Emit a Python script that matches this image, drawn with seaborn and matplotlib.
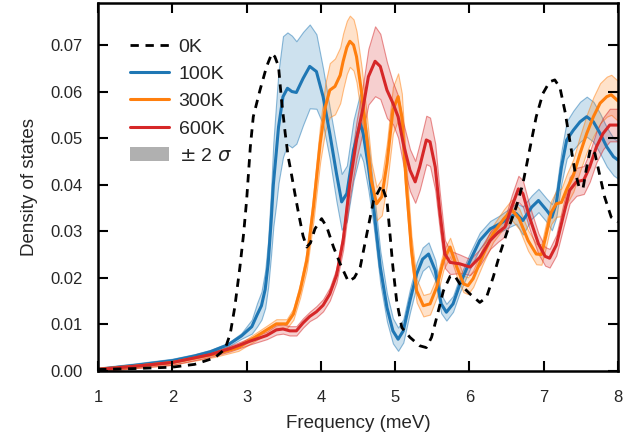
import numpy as np
import seaborn as sns
import matplotlib
matplotlib.use("Agg")
import matplotlib.pyplot as plt
from matplotlib.patches import Patch

# 0K (no uncertainty band)
x_0k = [1.0, 1.5, 2.0, 2.3, 2.57, 2.71, 2.78, 2.84, 2.91, 2.96, 3.0, 3.05, 3.09, 3.18,
        3.27, 3.34, 3.38, 3.43, 3.47, 3.52, 3.56, 3.61, 3.65, 3.70, 3.76, 3.81, 3.86,
        3.92, 4.01, 4.08, 4.17, 4.26, 4.37, 4.45, 4.53, 4.62, 4.71, 4.82, 4.89, 4.93,
        4.97, 5.02, 5.09, 5.20, 5.33, 5.42, 5.49, 5.56, 5.65, 5.74, 5.80, 5.87, 6.01,
        6.14, 6.23, 6.32, 6.41, 6.50, 6.63, 6.72, 6.81, 6.90, 6.99, 7.08, 7.15, 7.22,
        7.29, 7.35, 7.42, 7.48, 7.53, 7.58, 7.63, 7.69, 7.76, 7.82, 7.91, 8.0]
y_0k = [0.0003, 0.0005, 0.0008, 0.0014, 0.0028, 0.0047, 0.008, 0.0136, 0.0223, 0.0295,
        0.0366, 0.0481, 0.0546, 0.0603, 0.0654, 0.0682, 0.0675, 0.0654, 0.0582, 0.051,
        0.046, 0.0417, 0.0381, 0.0338, 0.029, 0.0266, 0.0275, 0.0305, 0.0327, 0.0309,
        0.0266, 0.023, 0.0192, 0.02, 0.0223, 0.0295, 0.0366, 0.0399, 0.0366, 0.0295,
        0.0223, 0.0151, 0.0093, 0.0072, 0.0054, 0.005, 0.0072, 0.0115, 0.0172, 0.0203,
        0.0205, 0.0187, 0.0165, 0.0147, 0.0158, 0.0201, 0.0251, 0.0295, 0.0352, 0.0402,
        0.0474, 0.0546, 0.0596, 0.0621, 0.0625, 0.0608, 0.0555, 0.0496, 0.043, 0.0393,
        0.0392, 0.0438, 0.0478, 0.0467, 0.0417, 0.0374, 0.033, 0.032]

# 100K
x_100k = [1.0, 1.5, 2.0, 2.3, 2.51, 2.75, 2.93, 3.07, 3.14, 3.20, 3.25, 3.29, 3.33, 3.36,
          3.40, 3.43, 3.49, 3.55, 3.61, 3.67, 3.76, 3.85, 3.94, 4.03, 4.12, 4.21, 4.28,
          4.35, 4.44, 4.53, 4.57, 4.64, 4.71, 4.80, 4.89, 4.97, 5.04, 5.11, 5.20, 5.29,
          5.37, 5.45, 5.54, 5.62, 5.69, 5.78, 5.87, 6.01, 6.14, 6.28, 6.41, 6.55, 6.63,
          6.72, 6.84, 6.93, 7.04, 7.11, 7.17, 7.24, 7.31, 7.40, 7.49, 7.58, 7.67, 7.76,
          7.85, 7.94, 8.0]
y_100k = [0.0003, 0.0012, 0.0022, 0.0032, 0.0041, 0.0056, 0.0075, 0.0095, 0.012, 0.014,
          0.0175, 0.023, 0.032, 0.04, 0.047, 0.0524, 0.0589, 0.0607, 0.06, 0.0598, 0.0628,
          0.0654, 0.0643, 0.0589, 0.051, 0.0424, 0.0363, 0.0381, 0.0474, 0.0532, 0.051,
          0.0438, 0.0352, 0.0223, 0.0136, 0.0086, 0.0068, 0.0086, 0.0151, 0.0208, 0.024,
          0.0251, 0.0216, 0.0144, 0.0126, 0.0144, 0.0185, 0.0237, 0.028, 0.0305, 0.0316,
          0.033, 0.0338, 0.0323, 0.0352, 0.0366, 0.0345, 0.033, 0.036, 0.0438, 0.0496,
          0.0517, 0.0535, 0.0546, 0.0535, 0.051, 0.0481, 0.046, 0.0453]
s_100k = [0.0004, 0.0004, 0.0004, 0.0004, 0.0004, 0.0004, 0.0006, 0.0015, 0.0025, 0.003,
          0.004, 0.005, 0.007, 0.009, 0.011, 0.012, 0.013, 0.012, 0.012, 0.011, 0.010,
          0.009, 0.008, 0.006, 0.0055, 0.006, 0.006, 0.006, 0.0065, 0.0065, 0.006, 0.005,
          0.004, 0.0035, 0.003, 0.0027, 0.0025, 0.0025, 0.0025, 0.0025, 0.0025, 0.0025,
          0.0022, 0.002, 0.0018, 0.0017, 0.0017, 0.0017, 0.0017, 0.0017, 0.0018, 0.002,
          0.0022, 0.003, 0.0025, 0.0025, 0.0025, 0.0028, 0.003, 0.0035, 0.004, 0.0042,
          0.0043, 0.0043, 0.0043, 0.0043, 0.0042, 0.004, 0.004]

# 300K
x_300k = [1.0, 1.5, 2.0, 2.57, 2.89, 3.11, 3.29, 3.40, 3.54, 3.63, 3.72, 3.81, 3.90, 3.99,
          4.06, 4.12, 4.19, 4.26, 4.30, 4.35, 4.39, 4.44, 4.48, 4.55, 4.62, 4.68, 4.75,
          4.82, 4.89, 4.97, 5.04, 5.09, 5.15, 5.22, 5.29, 5.38, 5.47, 5.56, 5.65, 5.74,
          5.83, 5.92, 5.98, 6.05, 6.19, 6.32, 6.46, 6.57, 6.67, 6.79, 6.90, 6.97, 7.03,
          7.10, 7.17, 7.24, 7.31, 7.40, 7.49, 7.58, 7.67, 7.76, 7.85, 7.91, 8.0]
y_300k = [0.0003, 0.001, 0.0018, 0.0036, 0.005, 0.0072, 0.009, 0.0101, 0.0101, 0.0122,
          0.0172, 0.0237, 0.0352, 0.0488, 0.0567, 0.0603, 0.0611, 0.0635, 0.0665, 0.0695,
          0.0708, 0.07, 0.0675, 0.0596, 0.0496, 0.0409, 0.0359, 0.0374, 0.0445, 0.056,
          0.0589, 0.0546, 0.0402, 0.0259, 0.0172, 0.014, 0.0144, 0.018, 0.0237, 0.0266,
          0.0223, 0.0187, 0.0183, 0.0198, 0.0251, 0.0295, 0.0326, 0.0346, 0.0327, 0.028,
          0.0251, 0.025, 0.029, 0.034, 0.0359, 0.0362, 0.039, 0.042, 0.0467, 0.051, 0.0546,
          0.0575, 0.0589, 0.0593, 0.058]
s_300k = [0.0004, 0.0004, 0.0005, 0.0006, 0.0007, 0.0008, 0.0009, 0.001, 0.001, 0.0012,
          0.0015, 0.002, 0.003, 0.004, 0.005, 0.0058, 0.006, 0.006, 0.006, 0.0057, 0.0055,
          0.0055, 0.0055, 0.0055, 0.005, 0.004, 0.0036, 0.004, 0.0045, 0.005, 0.005, 0.005,
          0.004, 0.003, 0.0025, 0.0023, 0.0023, 0.0022, 0.002, 0.002, 0.002, 0.0018, 0.0018,
          0.0018, 0.0018, 0.0018, 0.002, 0.0022, 0.0022, 0.0022, 0.0022, 0.0022, 0.0025,
          0.0025, 0.0028, 0.003, 0.0032, 0.0035, 0.0038, 0.004, 0.0042, 0.0043, 0.0043,
          0.0043, 0.0043]

# 600K
x_600k = [1.0, 1.5, 2.0, 2.51, 2.78, 3.05, 3.27, 3.40, 3.49, 3.58, 3.67, 3.76, 3.85, 3.94,
          4.03, 4.12, 4.21, 4.30, 4.39, 4.48, 4.57, 4.64, 4.73, 4.80, 4.89, 4.97, 5.04,
          5.11, 5.20, 5.27, 5.33, 5.42, 5.47, 5.54, 5.60, 5.67, 5.74, 5.87, 6.01, 6.14,
          6.28, 6.39, 6.48, 6.57, 6.66, 6.72, 6.81, 6.93, 7.02, 7.08, 7.17, 7.26, 7.35,
          7.44, 7.54, 7.62, 7.71, 7.80, 7.89, 8.0]
y_600k = [0.0003, 0.001, 0.0018, 0.0035, 0.0048, 0.0064, 0.0076, 0.0088, 0.009, 0.0086,
          0.0086, 0.0103, 0.0117, 0.0127, 0.0141, 0.0165, 0.0205, 0.028, 0.0402, 0.0496,
          0.0567, 0.0632, 0.0665, 0.0654, 0.0603, 0.0575, 0.0546, 0.0488, 0.0431, 0.0406,
          0.0438, 0.0496, 0.0492, 0.0438, 0.0345, 0.0251, 0.0233, 0.023, 0.0223, 0.0244,
          0.028, 0.0298, 0.0309, 0.0352, 0.0391, 0.0381, 0.033, 0.0273, 0.0246, 0.0242,
          0.027, 0.033, 0.0388, 0.0406, 0.041, 0.0438, 0.0481, 0.051, 0.0528, 0.0528]
s_600k = [0.0004, 0.0004, 0.0005, 0.0005, 0.0006, 0.0007, 0.0008, 0.001, 0.001, 0.001,
          0.001, 0.001, 0.001, 0.0012, 0.0013, 0.0014, 0.0015, 0.002, 0.003, 0.004, 0.005,
          0.006, 0.0075, 0.007, 0.006, 0.0045, 0.0045, 0.0045, 0.0045, 0.0045, 0.005,
          0.0052, 0.0052, 0.005, 0.004, 0.003, 0.0025, 0.002, 0.0017, 0.0017, 0.0018,
          0.002, 0.002, 0.0025, 0.0028, 0.0028, 0.0025, 0.0022, 0.002, 0.002, 0.0022,
          0.0025, 0.0028, 0.003, 0.003, 0.0032, 0.0033, 0.0034, 0.0035, 0.0035]

sns.set_style("ticks", {"axes.axisbelow": False})
plt.rcParams["font.family"] = ["Liberation Sans", "DejaVu Sans"]
plt.rcParams["mathtext.fontset"] = "dejavusans"

fig, ax = plt.subplots(figsize=(6.41, 4.41), dpi=100)
fig.subplots_adjust(left=0.153, right=0.964, top=0.993, bottom=0.159)

series = [
    ("100K", x_100k, y_100k, s_100k, "#1f77b4"),
    ("300K", x_300k, y_300k, s_300k, "#ff7f0e"),
    ("600K", x_600k, y_600k, s_600k, "#d62728"),
]

for label, xs, ys, ss, col in series:
    xs, ys, ss = np.array(xs), np.array(ys), np.array(ss)
    rgb = matplotlib.colors.to_rgb(col)
    ax.fill_between(xs, ys - ss, ys + ss, facecolor=rgb + (0.22,),
                    edgecolor=rgb + (0.5,), linewidth=0.8, zorder=1)

sns.lineplot(x=x_0k, y=y_0k, ax=ax, color="black", linewidth=2,
             linestyle=(0, (3, 2.4)), label="0K", zorder=3)
for label, xs, ys, ss, col in series:
    sns.lineplot(x=xs, y=ys, ax=ax, color=col, linewidth=2.2, label=label, zorder=2)

handles, labels = ax.get_legend_handles_labels()
handles.append(Patch(facecolor="#b0b0b0", edgecolor="none"))
labels.append(r"$\pm$ 2 $\sigma$")
ax.legend(handles, labels, loc="upper left", bbox_to_anchor=(0.0615, 0.905),
          frameon=False, fontsize=14, handlelength=2.0, labelspacing=0.5,
          handletextpad=0.5, borderpad=0, borderaxespad=0)

ax.set_xlim(1, 8)
ax.set_ylim(0, 0.079)
ax.set_xticks(range(1, 9))
ax.set_yticks([0.0, 0.01, 0.02, 0.03, 0.04, 0.05, 0.06, 0.07])
ax.set_yticklabels([f"{v:.2f}" for v in ax.get_yticks()])
ax.tick_params(axis="x", which="major", direction="in", bottom=True, top=True,
               length=7, width=1.5, color="black", labelsize=12, pad=14)
ax.tick_params(axis="y", which="major", direction="in", left=True, right=True,
               length=7, width=1.5, color="black", labelsize=12, pad=11)
for sp in ax.spines.values():
    sp.set_linewidth(1.8)
    sp.set_color("black")

ax.set_xlabel("Frequency (meV)", fontsize=13.5, labelpad=7)
ax.set_ylabel("Density of states", fontsize=13.5, labelpad=9)

fig.savefig("out.png", dpi=100)
